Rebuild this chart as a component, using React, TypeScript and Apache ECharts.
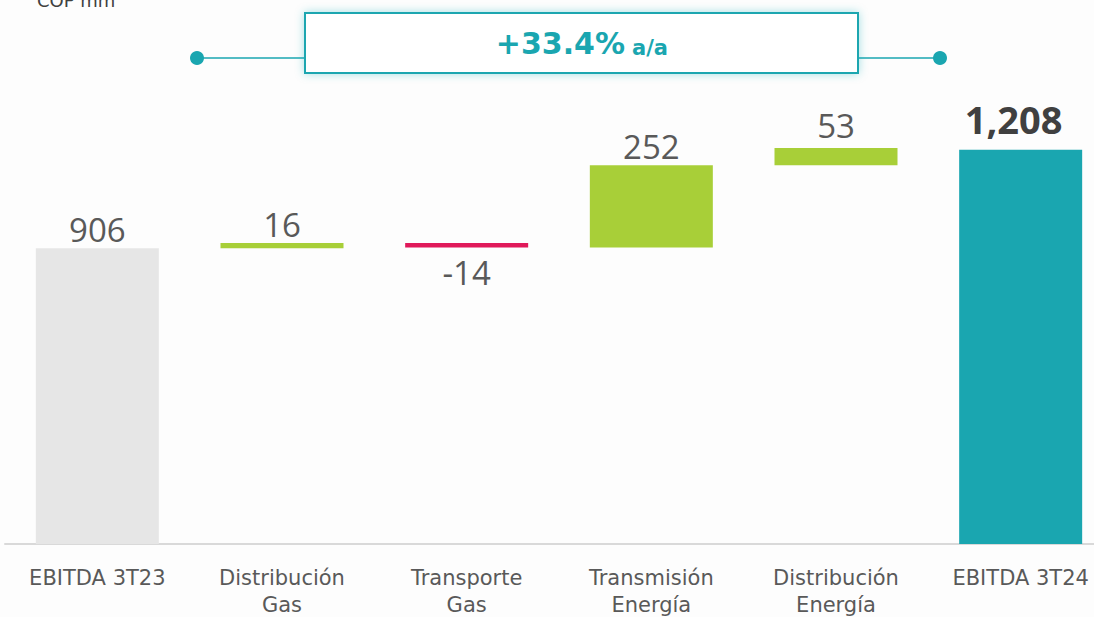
import React, { useEffect, useRef } from "react";
import * as echarts from "echarts";

const categories = ["EBITDA 3T23", "Distribución\nGas", "Transporte\nGas", "Transmisión\nEnergía", "Distribución\nEnergía", "EBITDA 3T24"];
const values = [906, 16, -14, 252, 53, 1208];
const kinds = ["total", "delta", "delta", "delta", "delta", "total"];
const valueLabels = ["906", "16", "-14", "252", "53", "1,208"];
const growthLabel = "+33.4%";
const growthUnit = "a/a";
const unitLabel = "COP mm";

const GRAY = "#e6e6e6";
const GREEN = "#a8cf38";
const RED = "#e0195a";
const TEAL = "#1aa6b0";

export default function App() {
  const ref = useRef<HTMLDivElement>(null);
  useEffect(() => {
    document.body.style.margin = "0";
    const chart = echarts.init(ref.current!, undefined, { renderer: "svg" });
    const bases: number[] = [];
    const heights: number[] = [];
    let running = 0;
    values.forEach((v, i) => {
      if (kinds[i] === "total") {
        bases.push(0);
        heights.push(v);
        running = v;
      } else if (v >= 0) {
        bases.push(running);
        heights.push(v);
        running += v;
      } else {
        running += v;
        bases.push(running);
        heights.push(-v);
      }
    });
    const colorFor = (i: number) =>
      kinds[i] === "total" ? (i === 0 ? GRAY : TEAL) : values[i] >= 0 ? GREEN : RED;
    const labelDistance = (i: number) => (values[i] < 0 ? 8 : i === 5 ? 12 : i === 4 ? 6 : 2);

    chart.setOption({
      animation: false,
      backgroundColor: "#fdfdfd",
      grid: { left: 5, width: 1108, top: 87, bottom: 73, containLabel: false, outerBoundsMode: "none" },
      xAxis: {
        type: "category",
        data: categories,
        axisLine: { lineStyle: { color: "#d9d9d9", width: 2 } },
        axisTick: { show: false },
        axisLabel: {
          color: "#595959",
          fontSize: 21,
          fontFamily: "DejaVu Sans",
          lineHeight: 27,
          margin: 20,
          interval: 0,
        },
      },
      yAxis: { type: "value", min: 0, max: 1400, show: false, splitLine: { show: false } },
      series: [
        {
          type: "bar",
          stack: "w",
          data: bases,
          itemStyle: { color: "transparent" },
          barWidth: 123,
          silent: true,
        },
        {
          type: "bar",
          stack: "w",
          barWidth: 123,
          data: heights.map((h, i) => ({
            value: h,
            itemStyle: { color: colorFor(i) },
            label: {
              show: true,
              position: values[i] < 0 ? "bottom" : "top",
              distance: labelDistance(i),
              offset: i === 5 ? [-7, 0] : [0, 0],
              formatter: valueLabels[i],
              color: i === 5 ? "#404040" : "#595959",
              fontWeight: i === 5 ? "bold" : "normal",
              fontSize: i === 5 ? 38 : 33,
              fontFamily: "Open Sans",
            },
          })),
        },
      ],
      graphic: [
        {
          type: "text",
          x: 37,
          y: 9,
          style: { text: unitLabel, fontSize: 18, fill: "#404040", fontFamily: "DejaVu Sans", verticalAlign: "bottom" },
        },
        { type: "line", shape: { x1: 197, y1: 58, x2: 305, y2: 58 }, style: { stroke: TEAL, lineWidth: 1.5 } },
        { type: "line", shape: { x1: 858, y1: 58, x2: 940, y2: 58 }, style: { stroke: TEAL, lineWidth: 1.5 } },
        { type: "circle", shape: { cx: 197, cy: 58, r: 7 }, style: { fill: TEAL } },
        { type: "circle", shape: { cx: 940, cy: 58, r: 7 }, style: { fill: TEAL } },
        {
          type: "rect",
          shape: { x: 305, y: 13, width: 553, height: 60 },
          style: {
            fill: "#ffffff",
            stroke: TEAL,
            lineWidth: 2,
            shadowBlur: 10,
            shadowColor: "rgba(26,166,176,0.35)",
          },
        },
        {
          type: "text",
          x: 625,
          y: 43,
          style: {
            text: growthLabel,
            align: "right",
            verticalAlign: "middle",
            fontSize: 30,
            fontWeight: "bold",
            fill: TEAL,
            fontFamily: "DejaVu Sans",
          },
        },
        {
          type: "text",
          x: 632,
          y: 47.5,
          style: {
            text: growthUnit,
            align: "left",
            verticalAlign: "middle",
            fontSize: 21,
            fontWeight: "bold",
            fill: TEAL,
            fontFamily: "DejaVu Sans",
          },
        },
      ],
    });
    return () => chart.dispose();
  }, []);
  return <div ref={ref} style={{ width: 1094, height: 617 }} />;
}
